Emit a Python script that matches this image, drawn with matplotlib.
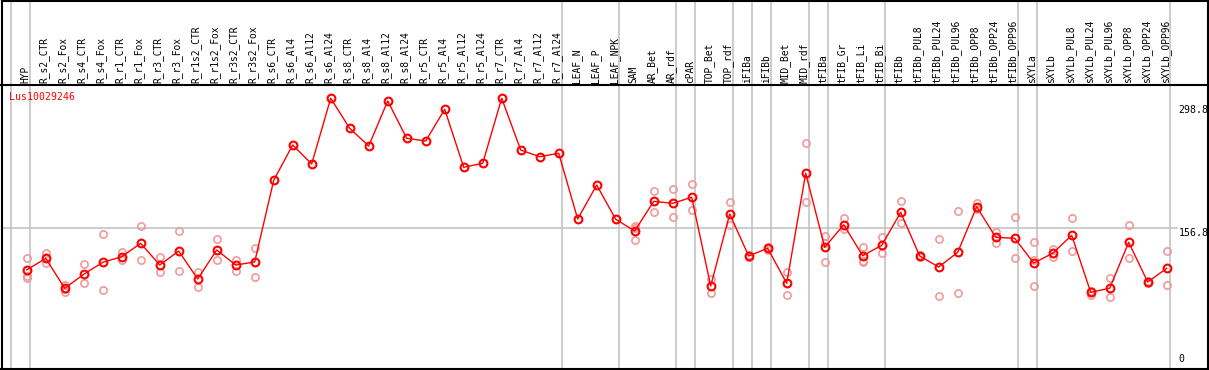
import matplotlib
matplotlib.use("Agg")
import matplotlib.pyplot as plt
from matplotlib.lines import Line2D

categories = ["HYP", "R_s2_CTR", "R_s2_Fox", "R_s4_CTR", "R_s4_Fox", "R_r1_CTR", "R_r1_Fox",
              "R_r3_CTR", "R_r3_Fox", "R_r1s2_CTR", "R_r1s2_Fox", "R_r3s2_CTR", "R_r3s2_Fox",
              "R_s6_CTR", "R_s6_Al4", "R_s6_Al12", "R_s6_Al24", "R_s8_CTR", "R_s8_Al4",
              "R_s8_Al12", "R_s8_Al24", "R_r5_CTR", "R_r5_Al4", "R_r5_Al12", "R_r5_Al24",
              "R_r7_CTR", "R_r7_Al4", "R_r7_Al12", "R_r7_Al24", "LEAF_N", "LEAF_P", "LEAF_NPK",
              "SAM", "AR_Bet", "AR_rdf", "cPAR", "TOP_Bet", "TOP_rdf", "iFIBa", "iFIBb",
              "MID_Bet", "MID_rdf", "tFIBa", "tFIB_Gr", "tFIB_Li", "tFIB_Bi", "tFIBb",
              "tFIBb_PUL8", "tFIBb_PUL24", "tFIBb_PUL96", "tFIBb_OPP8", "tFIBb_OPP24",
              "tFIBb_OPP96", "sXYLa", "sXYLb", "sXYLb_PUL8", "sXYLb_PUL24", "sXYLb_PUL96",
              "sXYLb_OPP8", "sXYLb_OPP24", "sXYLb_OPP96"]

means = [108.8, 122.2, 87.7, 103.8, 117.6, 124.1, 139.5, 114.5, 130.6, 98.4, 131.8, 114.5, 118.0,
         212.1, 252.8, 230.9, 306.6, 272.0, 251.6, 303.5, 260.5, 257.4, 293.9, 227.1, 231.7,
         306.6, 247.0, 239.3, 243.2, 167.5, 206.7, 167.2, 153.7, 187.9, 185.6, 192.5, 90.3,
         173.3, 124.9, 133.8, 93.4, 220.2, 134.9, 160.9, 125.2, 137.2, 175.2, 124.9, 112.2,
         129.1, 181.7, 146.4, 145.3, 116.8, 128.0, 148.7, 83.1, 87.7, 140.7, 94.9, 110.7]

replicates = [
    [122.2, 102.2, 99.2], [128.0, 122.2, 116.5], [91.5, 87.4, 83.8], [115.3, 93.4],
    [149.9, 85.7], [129.1, 120.3], [159.4, 119.9], [123.4, 106.1], [153.7, 107.6],
    [106.1, 89.5], [144.1, 120.3], [120.3, 107.9], [133.8, 100.3],
    [], [], [], [], [], [], [], [], [], [], [], [], [], [], [], [], [], [], [],
    [159.8, 157.7, 143.3], [199.4, 175.9], [201.7, 169.5], [207.5, 177.5], [98.0, 81.9],
    [186.7, 160.6], [126.0, 123.7], [135.6, 131.8], [106.5, 79.6], [254.7, 186.7],
    [147.9, 139.3, 117.6], [168.3, 156.0], [135.6, 119.1, 117.6], [147.1, 128.0],
    [187.9, 162.6], [126.0, 123.7], [144.5, 78.8], [176.7, 81.9], [185.6, 179.0],
    [152.9, 140.2], [169.5, 122.2], [140.7, 120.3, 90.3], [132.6, 123.4], [168.3, 130.6],
    [84.9, 80.0], [99.2, 77.3], [160.3, 122.2], [96.1, 93.8], [130.6, 91.5],
]

group_breaks = [-1, 0, 28, 31, 34, 35, 37, 38, 39, 41, 42, 45, 52, 53, 60]
y_ticks = [298.8, 156.8, 0]
y_tick_labels = ["298.8", "156.8", "0"]
gene_label = "Lus10029246"

W, H = 1209, 370
fig = plt.figure(figsize=(W / 100, H / 100), dpi=100)
ax_left, ax_right = 1.5, 1208.0
ax_top, ax_bot = 85.0, 369.0
ax = fig.add_axes([ax_left / W, 1 - ax_bot / H, (ax_right - ax_left) / W, (ax_bot - ax_top) / H])

x = list(range(len(categories)))
xmin = -(26.7 - ax_left) / 19.0
xmax = xmin + (ax_right - ax_left) / 19.0
ax.set_xlim(xmin, xmax)
ax.set_ylim(-5.3, 321.9)

mono = "DejaVu Sans Mono"
grid_c = "#c4c4c4"

# horizontal reference line
frac = (1177.0 - ax_left) / (ax_right - ax_left)
ax.axhline(156.8, xmin=0, xmax=frac, color=grid_c, lw=1.2, zorder=1)

# vertical group separators extending through header
top_frac = (ax_bot - 0.0) / (ax_bot - ax_top)
ax.vlines([b + 0.19 for b in group_breaks], 0, top_frac, transform=ax.get_xaxis_transform(),
          colors=grid_c, lw=1.2, clip_on=False, zorder=1)

# replicates
rx, ry = [], []
for i, reps in enumerate(replicates):
    for r in reps:
        rx.append(i)
        ry.append(r)
ax.plot(rx, ry, linestyle="none", marker="o", markersize=5.2, markerfacecolor="none",
        markeredgecolor="#f09a9a", markeredgewidth=1.2, zorder=2)

# mean line
ax.plot(x, means, color="#ff0000", lw=1.0, zorder=3)
ax.plot(x, means, linestyle="none", marker="o", markersize=5.6, markerfacecolor="none",
        markeredgecolor="#ff0000", markeredgewidth=1.5, zorder=4)

# header labels
lab_y = (ax_bot - 83.0) / (ax_bot - ax_top)
for i, c in enumerate(categories):
    ax.text(i - 0.08, lab_y, c, rotation=90, ha="center", va="bottom", fontsize=6.9,
            family=mono, color="black", transform=ax.get_xaxis_transform(), clip_on=False)

# gene label
ax.text((9.5 - ax_left) / (ax_right - ax_left), (ax_bot - 92.5) / (ax_bot - ax_top), gene_label,
        ha="left", va="top", fontsize=7.1, family=mono, color="#ff0000", transform=ax.transAxes)

# y tick labels
lx = (1178.5 - ax_left) / (ax_right - ax_left)
for v, t in zip(y_ticks, y_tick_labels):
    ax.text(lx, v, t, ha="left", va=("bottom" if v == 0 else "top"), fontsize=7.1, family=mono,
            color="black", transform=ax.get_yaxis_transform())

ax.set_xticks([])
ax.set_yticks([])
for s in ax.spines.values():
    s.set_color("black")
    s.set_linewidth(1.5)

# outer frame of header
fig.add_artist(Line2D([ax_left / W, ax_left / W], [1 - ax_top / H, 1 - 0.5 / H], color="black", lw=1.5))
fig.add_artist(Line2D([ax_right / W, ax_right / W], [1 - ax_top / H, 1 - 0.5 / H], color="black", lw=1.5))
fig.add_artist(Line2D([ax_left / W, ax_right / W], [1 - 0.8 / H, 1 - 0.8 / H], color="black", lw=1.5))

fig.savefig("out.png", dpi=100)
